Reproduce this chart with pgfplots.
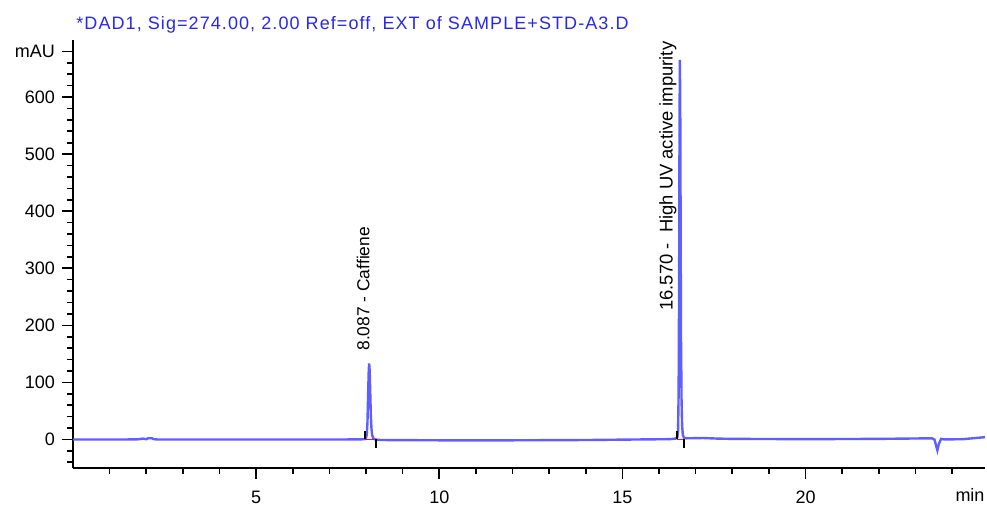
\documentclass[border=0pt]{standalone}
\usepackage{pgfplots}
\pgfplotsset{compat=1.18}
\usepackage{fontspec}
\setmainfont{Liberation Sans}
\newfontfamily\widefont[LetterSpace=6]{Liberation Sans}
\definecolor{trace}{RGB}{95,95,255}
\definecolor{ttl}{RGB}{40,40,235}
\begin{document}
\begin{tikzpicture}
\begin{axis}[
  name=ax,
  scale only axis,
  width=456pt, height=214pt,
  xmin=0, xmax=24.9,
  ymin=-50, ymax=700,
  axis lines=left,
  axis line style={line width=1pt,-},
  xtick={5,10,15,20},
  minor xtick={1,2,3,4,6,7,8,9,11,12,13,14,16,17,18,19,21,22,23,24},
  ytick={0,100,200,300,400,500,600,680},
  yticklabels={0,100,200,300,400,500,600,mAU},
  minor ytick={-40,-20,20,40,60,80,120,140,160,180,220,240,260,280,320,340,360,380,420,440,460,480,520,540,560,580,620,640,660},
  tick align=outside,
  major tick length=5.5pt,
  minor tick length=3pt,
  every tick/.style={black,line width=0.8pt},
  /pgf/number format/assume math mode=true,
  ticklabel style={font=\fontsize{9}{10.8}\selectfont},
  xticklabel style={yshift=-2.5pt},
  clip=false,
]
\addplot[trace, line width=1.2pt] coordinates {
(0,0) (1.5,0) (1.8,0.3) (1.9,1.5) (2.0,0.5) (2.05,2) (2.15,2.2) (2.2,0.5) (2.3,0)
(4,0) (6,0) (7.5,0) (7.95,0.3) (7.99,1) (8.02,8) (8.04,30) (8.06,85) (8.075,122)
(8.087,133) (8.10,120) (8.115,85) (8.13,45) (8.15,18) (8.17,7) (8.20,2) (8.25,0)
(8.4,-1) (10,-1.5) (12,-1.5) (14,-1) (15.5,0) (16.3,0.5) (16.45,1.5) (16.50,4)
(16.52,15) (16.535,80) (16.55,300) (16.56,560) (16.57,665) (16.58,580) (16.59,380)
(16.60,180) (16.615,70) (16.63,25) (16.65,8) (16.68,3) (16.75,2) (17.2,2.5) (17.6,1.5)
(18,1) (20,0.5) (22,1) (23.45,2) (23.52,0) (23.57,-12) (23.6,-19) (23.64,-8) (23.7,1)
(23.8,0) (24.3,0.5) (24.9,4)
};
\addplot[magenta, line width=0.9pt] coordinates {(7.96,0) (8.26,0)};
\addplot[magenta, line width=0.9pt] coordinates {(16.48,0) (16.68,0)};
\addplot[black, line width=1pt] coordinates {(7.96,0) (7.96,14)};
\addplot[black, line width=1pt] coordinates {(8.27,0) (8.27,-15)};
\addplot[black, line width=1pt] coordinates {(16.48,0) (16.48,14)};
\addplot[black, line width=1pt] coordinates {(16.69,0) (16.69,-15)};
\node[rotate=90, anchor=west, inner sep=0pt, font=\fontsize{8.7}{10}\selectfont] at (axis cs:7.92,155) {8.087 - Caffiene};
\node[rotate=90, anchor=west, inner sep=0pt, font=\fontsize{9.2}{11}\selectfont] at (axis cs:16.24,225) {16.570 -\ \ High UV active impurity};
\end{axis}
\node[anchor=base west, inner sep=0pt, text=ttl, font=\widefont\fontsize{9}{10.8}\selectfont] at ([xshift=1.5pt,yshift=5pt]ax.north west) {*DAD1, Sig=274.00, 2.00 Ref=off, EXT of SAMPLE+STD-A3.D};
\node[anchor=base, inner sep=0pt, font=\fontsize{9}{10.8}\selectfont] at ([xshift=-7.5pt,yshift=-17pt]ax.south east) {min};
\pgfresetboundingbox
\path ([xshift=-36.5pt,yshift=-18.5pt]ax.south west) rectangle ([xshift=1pt,yshift=20pt]ax.north east);
\end{tikzpicture}
\end{document}
